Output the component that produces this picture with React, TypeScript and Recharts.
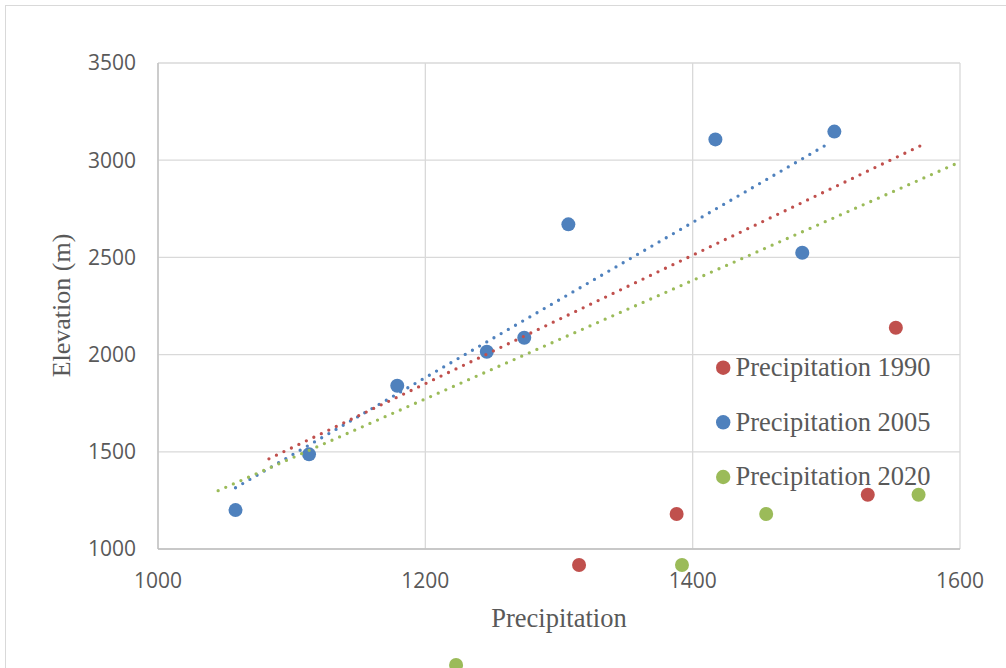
import React from 'react';
import { ScatterChart, Scatter, XAxis, YAxis, CartesianGrid } from 'recharts';

const xTicks = [1000, 1200, 1400, 1600];
const yTicks = [1000, 1500, 2000, 2500, 3000, 3500];

const precip1990 = [
  { x: 1552, y: 2138 },
  { x: 1531, y: 1279 },
  { x: 1388, y: 1180 },
  { x: 1315, y: 918 },
];
const precip2005 = [
  { x: 1058, y: 1200 },
  { x: 1113, y: 1487 },
  { x: 1179, y: 1840 },
  { x: 1246, y: 2015 },
  { x: 1274, y: 2087 },
  { x: 1307, y: 2670 },
  { x: 1417, y: 3107 },
  { x: 1482, y: 2524 },
  { x: 1506, y: 3147 },
];
const precip2020 = [
  { x: 1569, y: 1279 },
  { x: 1455, y: 1180 },
  { x: 1392, y: 918 },
  { x: 1223, y: 403 },
];

const trend1990 = [
  { x: 1083, y: 1464 },
  { x: 1573, y: 3083 },
];
const trend2005 = [
  { x: 1058, y: 1315 },
  { x: 1502, y: 3087 },
];
const trend2020 = [
  { x: 1045, y: 1300 },
  { x: 1600, y: 2991 },
];

const seriesNames = ['Precipitation 1990', 'Precipitation 2005', 'Precipitation 2020'];
const seriesColors = ['#C0504D', '#4F81BD', '#9BBB59'];

const xTitle = 'Precipitation';
const yTitle = 'Elevation (m)';

const dot = (color: string) => (props: any) => (
  <circle cx={props.cx} cy={props.cy} r={7} fill={color} />
);
const noShape = () => <g />;

const trendLine = (color: string) => ({
  stroke: color,
  strokeWidth: 3.3,
  strokeDasharray: '0 8.3',
  strokeLinecap: 'round' as const,
});

const tickStyle = { fill: '#595959', fontSize: 21, fontFamily: 'Open Sans' };

export default function App() {
  const legendY = [367.7, 422.3, 477];
  return (
    <div
      style={{
        position: 'fixed',
        left: 0,
        top: 0,
        width: 1006,
        height: 668,
        overflow: 'hidden',
        background: '#fff',
      }}
    >
      <style>{'.recharts-surface [clip-path]{clip-path:none !important;}'}</style>
      <div
        style={{
          position: 'absolute',
          left: 5,
          top: 5,
          width: 1200,
          height: 900,
          border: '1.5px solid #d9d9d9',
        }}
      />
      <div style={{ position: 'absolute', left: 0, top: 0 }}>
        <ScatterChart
          width={1006}
          height={668}
          margin={{ top: 63, right: 46, bottom: 79, left: 58 }}
        >
          <CartesianGrid stroke="#d9d9d9" strokeWidth={1.3} />
          <XAxis
            type="number"
            dataKey="x"
            domain={[1000, 1600]}
            ticks={xTicks}
            height={40}
            tickLine={false}
            tickSize={0}
            tickMargin={24}
            axisLine={{ stroke: '#bfbfbf', strokeWidth: 1.3 }}
            tick={tickStyle}
            allowDataOverflow
          />
          <YAxis
            type="number"
            dataKey="y"
            domain={[1000, 3500]}
            ticks={yTicks}
            width={100}
            tickLine={false}
            tickSize={0}
            tickMargin={22}
            axisLine={{ stroke: '#bfbfbf', strokeWidth: 1.3 }}
            tick={tickStyle}
            allowDataOverflow
          />
          <Scatter data={precip1990} shape={dot(seriesColors[0])} isAnimationActive={false} />
          <Scatter data={precip2005} shape={dot(seriesColors[1])} isAnimationActive={false} />
          <Scatter data={precip2020} shape={dot(seriesColors[2])} isAnimationActive={false} />
          <Scatter
            data={trend2005}
            shape={noShape}
            line={trendLine(seriesColors[1])}
            fill={seriesColors[1]}
            isAnimationActive={false}
          />
          <Scatter
            data={trend1990}
            shape={noShape}
            line={trendLine(seriesColors[0])}
            fill={seriesColors[0]}
            isAnimationActive={false}
          />
          <Scatter
            data={trend2020}
            shape={noShape}
            line={trendLine(seriesColors[2])}
            fill={seriesColors[2]}
            isAnimationActive={false}
          />
        </ScatterChart>
      </div>
      <svg
        width={1006}
        height={668}
        style={{ position: 'absolute', left: 0, top: 0, pointerEvents: 'none' }}
      >
        <text
          x={559}
          y={627}
          textAnchor="middle"
          fontFamily="Liberation Serif"
          fontSize={26.5}
          fill="#595959"
        >
          {xTitle}
        </text>
        <text
          x={0}
          y={0}
          transform="translate(70,305.5) rotate(-90)"
          textAnchor="middle"
          fontFamily="Liberation Serif"
          fontSize={26}
          fill="#595959"
        >
          {yTitle}
        </text>
        {seriesNames.map((name, i) => (
          <g key={name}>
            <circle cx={723.2} cy={legendY[i]} r={7.2} fill={seriesColors[i]} />
            <text
              x={735.5}
              y={legendY[i] + 8.3}
              fontFamily="Liberation Serif"
              fontSize={26.5}
              fill="#595959"
            >
              {name}
            </text>
          </g>
        ))}
      </svg>
    </div>
  );
}
